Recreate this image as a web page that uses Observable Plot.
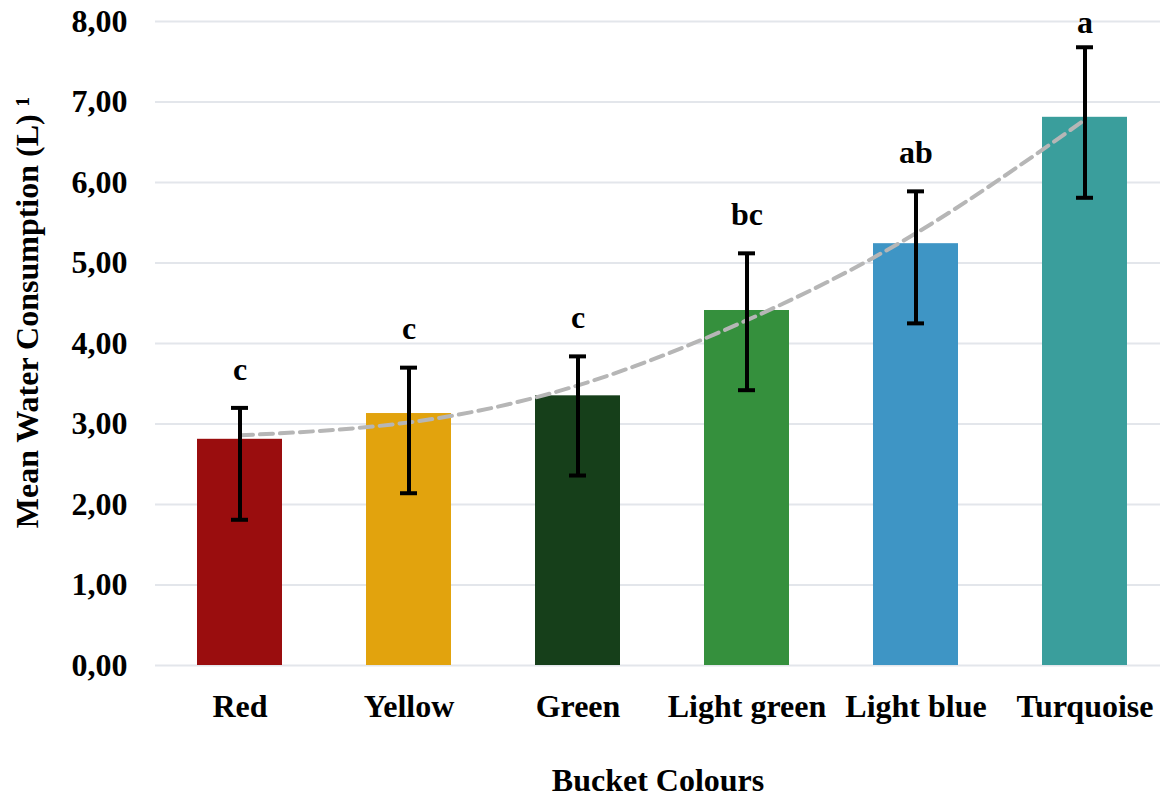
<!DOCTYPE html>
<html>
<head>
<meta charset="utf-8">
<script src="https://cdn.jsdelivr.net/npm/d3@7"></script>
<script src="https://cdn.jsdelivr.net/npm/@observablehq/plot@0.6"></script>
<style>
  html, body { margin: 0; padding: 0; background: #fff; }
  #chart svg { display: block; }
</style>
</head>
<body>
<div id="chart"></div>
<script>
const categories = ["Red", "Yellow", "Green", "Light green", "Light blue", "Turquoise"];
const meanValues = [2.81, 3.13, 3.35, 4.41, 5.24, 6.81];
const errLow = [1.81, 2.14, 2.36, 3.42, 4.25, 5.81];
const errHigh = [3.20, 3.70, 3.84, 5.12, 5.89, 7.68];
const letters = ["c", "c", "c", "bc", "ab", "a"];
const trendValues = [2.86, 3.02, 3.48, 4.29, 5.37, 6.78];
const barColors = ["#9a0d0e", "#e2a30d", "#163f1a", "#35903d", "#3e95c5", "#3a9e9c"];
const yTicks = [0, 1, 2, 3, 4, 5, 6, 7, 8];

const data = categories.map((c, i) => ({
  cat: c, mean: meanValues[i], lo: errLow[i], hi: errHigh[i],
  letter: letters[i], trend: trendValues[i]
}));

const font = "'Liberation Serif', 'Times New Roman', serif";
const fmt = d => d.toFixed(2).replace(".", ",");

const chart = Plot.plot({
  width: 1161,
  height: 797,
  marginLeft: 155,
  marginRight: 1,
  marginTop: 21,
  marginBottom: 132,
  style: { fontFamily: font, background: "#fff", color: "#000" },
  x: { domain: categories, range: [155, 1169], paddingInner: 0.497, paddingOuter: 0.248 },
  y: { domain: [0, 8] },
  color: { domain: categories, range: barColors },
  marks: [
    Plot.gridY(yTicks, { stroke: "#e3e6eb", strokeOpacity: 1, strokeWidth: 2 }),
    Plot.barY(data, { x: "cat", y: "mean", fill: "cat" }),
    Plot.line(data, { x: "cat", y: "trend", curve: "natural", stroke: "#b6b6b6", strokeWidth: 4, strokeDasharray: "13,7" }),
    Plot.ruleX(data, { x: "cat", y1: "lo", y2: "hi", stroke: "#000", strokeWidth: 4 }),
    Plot.tickY(data, { x: "cat", y: "lo", stroke: "#000", strokeWidth: 4, insetLeft: 34, insetRight: 34 }),
    Plot.tickY(data, { x: "cat", y: "hi", stroke: "#000", strokeWidth: 4, insetLeft: 34, insetRight: 34 }),
    Plot.text(data, { x: "cat", y: d => Math.min(d.hi + 0.48, 7.98), text: "letter", fontSize: 32, fontWeight: "bold", fill: "#000" }),
    Plot.axisY(yTicks, { tickSize: 0, tickPadding: 28, fontSize: 32, fontWeight: "bold", tickFormat: fmt, label: null }),
    Plot.text(["Mean Water Consumption (L) \u00B9"], { frameAnchor: "left", textAnchor: "middle", rotate: -90, dx: -128, dy: -31,
      fontSize: 32, fontWeight: "bold", fill: "#000" }),
    Plot.axisX({ tickSize: 0, tickPadding: 29, fontSize: 32, fontWeight: "bold",
      label: "Bucket Colours", labelAnchor: "center", labelOffset: 125, labelArrow: "none" })
  ]
});
document.getElementById("chart").appendChild(chart);
</script>
</body>
</html>
